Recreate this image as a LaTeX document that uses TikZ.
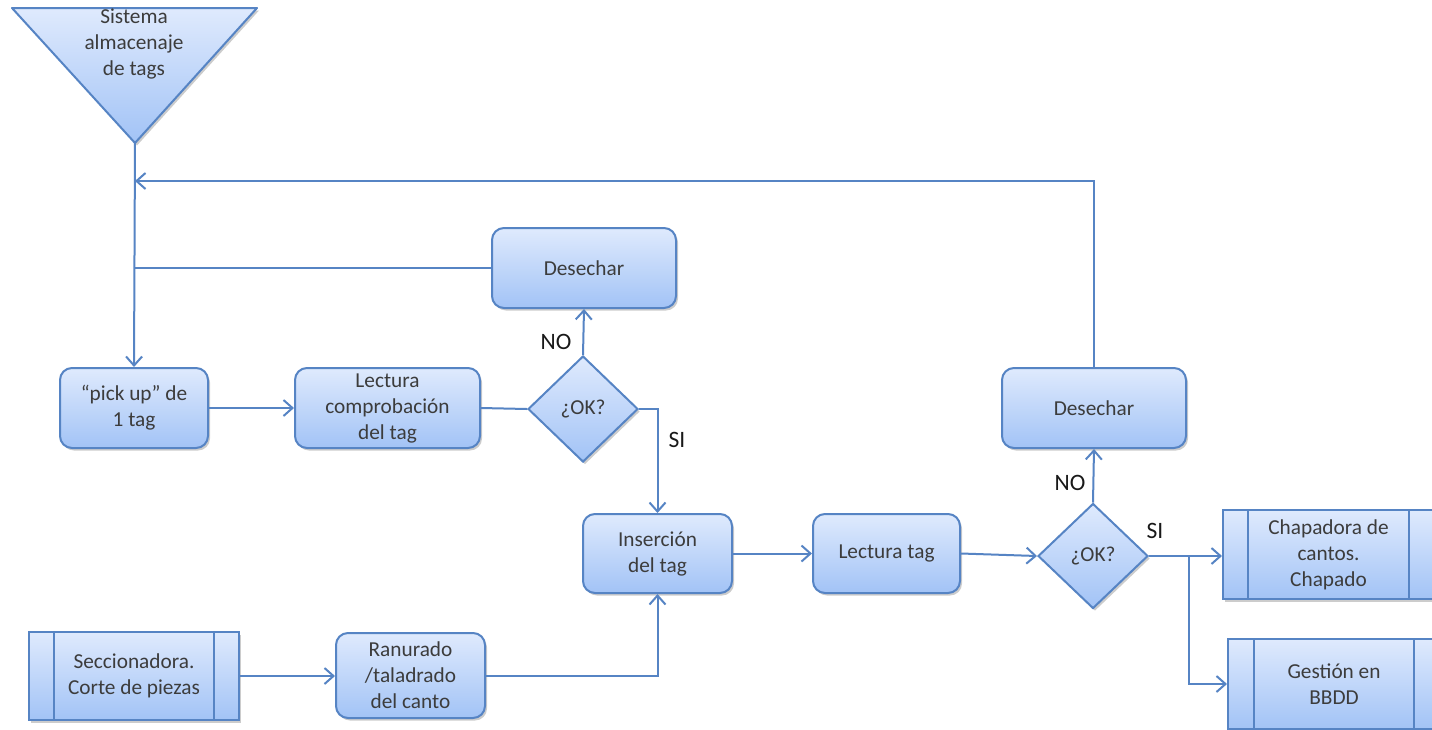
\documentclass[tikz,border=0pt]{standalone}
\usepackage{fontspec}
\setmainfont{Carlito}
\usetikzlibrary{shapes.geometric,arrows.meta,shadows}
\definecolor{bordc}{RGB}{86,132,196}
\definecolor{topc}{RGB}{223,234,253}
\definecolor{botc}{RGB}{162,195,246}
\definecolor{txtc}{RGB}{60,60,60}
\definecolor{lblc}{RGB}{25,25,25}
\tikzset{
  boxbase/.style={draw=bordc, line width=2pt, top color=topc, bottom color=botc,
    text=txtc, align=center, inner sep=0pt, font=\fontsize{21.3}{26}\selectfont,
    drop shadow={shadow xshift=2pt, shadow yshift=-2.5pt, opacity=0.2, fill=black}},
  procbox/.style={boxbase, rectangle, rounded corners=12pt},
  predbox/.style={boxbase, rectangle},
  decbox/.style={boxbase, diamond, aspect=1},
  conn/.style={draw=bordc, line width=2pt},
  arr/.style={conn, -{Straight Barb[length=9pt,width=16pt,line width=2pt]}},
  lbl/.style={text=lblc, font=\fontsize{23.5}{28}\selectfont, inner sep=0pt},
}
\begin{document}
\begin{tikzpicture}[x=1pt,y=-1pt]
\useasboundingbox (0,0) rectangle (1432,729);
\clip (0,0) rectangle (1432,729);
\fill[white] (0,0) rectangle (1432,729);
% storage triangle
\shade[top color=topc, bottom color=botc, drop shadow={shadow xshift=2pt, shadow yshift=-2.5pt, opacity=0.2, fill=black}] (12,8) -- (257,8) -- (135,143) -- cycle;
\draw[bordc, line width=2pt, line join=round] (12,8) -- (257,8) -- (135,143) -- cycle;
\coordinate (apex) at (135,143);
\node[text=txtc, align=center, font=\fontsize{21.3}{26}\selectfont] (stor) at (134,44) {Sistema\\almacenaje\\de tags};
% nodes
\node[procbox, minimum width=148pt, minimum height=80pt] (pick) at (134,408) {“pick up” de\\1 tag};
\node[procbox, minimum width=185pt, minimum height=80pt] (lec) at (387.5,408) {Lectura\\comprobación\\del tag};
\node[decbox, minimum width=110pt, minimum height=106pt] (d1) at (583,409) {¿OK?};
\node[procbox, minimum width=184pt, minimum height=80pt] (des1) at (584,268) {Desechar};
\node[procbox, minimum width=149pt, minimum height=79pt] (ins) at (657.5,553.5) {Inserción\\del tag};
\node[procbox, minimum width=147pt, minimum height=79pt] (lt) at (886.5,553.5) {Lectura tag};
\node[decbox, minimum width=110pt, minimum height=105pt] (d2) at (1093,556) {¿OK?};
\node[procbox, minimum width=184pt, minimum height=80pt] (des2) at (1094,408) {Desechar};
\node[predbox, minimum width=211pt, minimum height=89pt] (chap) at (1328.5,554.5) {Chapadora de\\cantos.\\Chapado};
\node[predbox, minimum width=212pt, minimum height=90pt] (gest) at (1334,684) {Gestión en\\BBDD};
\node[predbox, minimum width=210pt, minimum height=88pt] (secc) at (134,676) {Seccionadora.\\Corte de piezas};
\node[procbox, minimum width=149pt, minimum height=85pt] (ran) at (410.5,675.5) {Ranurado\\/taladrado\\del canto};
% inner bars of predefined process boxes
\foreach \n/\a/\b in {chap/26/26, gest/27/27, secc/26/26}{
  \draw[conn] ([xshift=\a pt]\n.north west) -- ([xshift=\a pt]\n.south west);
  \draw[conn] ([xshift=-\b pt]\n.north east) -- ([xshift=-\b pt]\n.south east);
}
% connectors
\coordinate (ret) at (135,181);
\draw[arr] (apex) -- (pick.north);
\draw[conn] (des1.west) -- (des1.west -| apex);
\draw[arr] (des2.north) |- (ret);
\draw[arr] (pick.east) -- (lec.west);
\draw[conn] (lec.east) -- (d1.west);
\draw[arr] (d1.north) -- (des1.south);
\draw[arr] (d1.east) -| (ins.north);
\draw[arr] (ins.east) -- (ins.east -| lt.west);
\draw[arr] (lt.east) -- (d2.west);
\draw[arr] (d2.north) -- (des2.south);
\coordinate (br) at (1189,556);
\draw[arr] (d2.east) -- (d2.east -| chap.west);
\draw[arr] (br) |- (gest.west);
\draw[arr] (secc.east) -- (secc.east -| ran.west);
\draw[arr] (ran.east) -| (ins.south);
% labels
\node[lbl] (no1) at (556,342) {NO};
\node[lbl] (si1) at (677,440) {SI};
\node[lbl] (no2) at (1070,483) {NO};
\node[lbl] (si2) at (1155,531) {SI};
\end{tikzpicture}
\end{document}
